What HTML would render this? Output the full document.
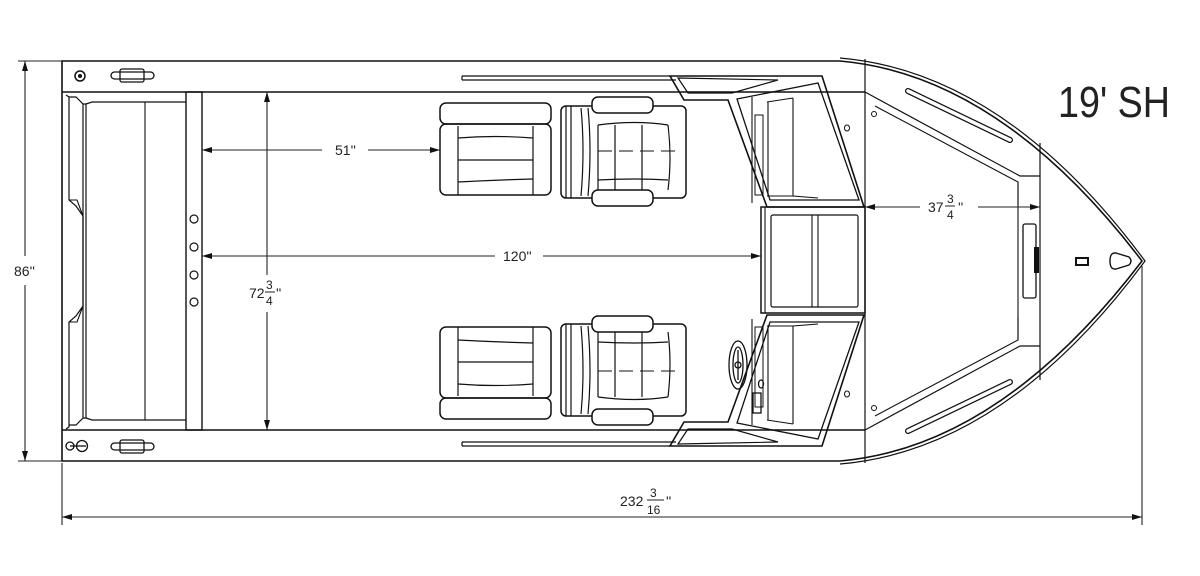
<!DOCTYPE html>
<html><head><meta charset="utf-8"><style>
html,body{margin:0;padding:0;background:#fff;width:1200px;height:576px;overflow:hidden}
svg{display:block}
text{font-family:"Liberation Sans",sans-serif;fill:#222}
</style></head><body>
<svg width="1200" height="576" viewBox="0 0 1200 576" xmlns="http://www.w3.org/2000/svg">
<defs>
<marker id="a" viewBox="0 0 10 6" refX="10" refY="3" markerWidth="10" markerHeight="6" orient="auto-start-reverse" markerUnits="userSpaceOnUse"><path d="M0,0L10,3L0,6z" fill="#111"/></marker>
<g id="seatR">
 <rect x="440" y="103" width="111" height="21" rx="6" fill="none" stroke="#111" stroke-width="1.5"/>
 <rect x="440" y="124" width="111" height="71" rx="6" fill="none" stroke="#111" stroke-width="1.5"/>
 <line x1="458" y1="126" x2="458" y2="195" stroke="#111" stroke-width="1.2"/>
 <line x1="533" y1="126" x2="533" y2="195" stroke="#111" stroke-width="1.2"/>
 <path d="M458,138 Q495,135 533,138 M458,160 L533,160 M458,182 Q495,180 533,179" fill="none" stroke="#111" stroke-width="1.2"/>
</g>
<g id="seatF">
 <rect x="561" y="106" width="125" height="92" rx="5" fill="none" stroke="#111" stroke-width="1.5"/>
 <path d="M566,106 V198 M571,106 V198 M581,108 Q585,150 581,196 M588,108 Q592,150 588,196" fill="none" stroke="#111" stroke-width="1.2"/>
 <path d="M598,125 L598,190 M615,125 L615,190 M642,125 L642,190 M668,125 Q672,158 668,190" fill="none" stroke="#111" stroke-width="1.2"/>
 <path d="M598,125 Q635,120 668,125 M598,180 Q635,178 668,180" fill="none" stroke="#111" stroke-width="1.2"/>
 <line x1="598" y1="151" x2="676" y2="151" stroke="#111" stroke-width="1" stroke-dasharray="14,7"/>
 <rect x="592" y="97" width="61" height="16" rx="6" fill="#fff" stroke="#111" stroke-width="1.5"/>
 <rect x="592" y="190" width="61" height="16" rx="6" fill="#fff" stroke="#111" stroke-width="1.5"/>
</g>
<g id="dash">
 <polygon points="670,76 822,76 864,207 767,207 728,100 684,100" fill="none" stroke="#111" stroke-width="1.6"/>
 <polygon points="737,99 818,83 859,200 770,200" fill="none" stroke="#111" stroke-width="1.3"/>
 <polygon points="678,78 778,80 732,93 688,93" fill="none" stroke="#111" stroke-width="1.2"/>
 <path d="M752,97 V203 M767,102 L793,98 M767,196 L793,196 M768,102 V196 M793,98 V196 L818,198" fill="none" stroke="#111" stroke-width="1.1"/>
 <rect x="755" y="115" width="8" height="80" fill="none" stroke="#111" stroke-width="1"/>
 <ellipse cx="847" cy="128" rx="2.5" ry="3" fill="none" stroke="#111"/>
 <line x1="462" y1="76" x2="670" y2="76" stroke="#111" stroke-width="1.2"/>
 <line x1="462" y1="80" x2="676" y2="80" stroke="#111" stroke-width="1.2"/>
 <line x1="462" y1="76" x2="462" y2="80" stroke="#111" stroke-width="1.2"/>
 <path d="M875,106 L1018,182 V205" fill="none" stroke="#111" stroke-width="1.1"/>
 <path d="M865,92 L1020,176 H1040" fill="none" stroke="#111" stroke-width="1.2"/>
 <path d="M908,91 L1010,140" stroke="#111" stroke-width="6" stroke-linecap="round"/>
 <path d="M908,91 L1010,140" stroke="#fff" stroke-width="3.5" stroke-linecap="round"/>
 <circle cx="874" cy="114" r="2.5" fill="none" stroke="#111"/>
</g>
</defs>

<!-- hull -->
<path d="M62,61 H840 Q1000,75 1142,261 Q1000,447 840,461 H62 Z" fill="none" stroke="#111" stroke-width="1.6"/>
<path d="M840,58 Q1005,72 1145,261 Q1005,450 840,464" fill="none" stroke="#111" stroke-width="1.2"/>
<line x1="865" y1="59" x2="865" y2="463" stroke="#111" stroke-width="1.2"/>
<line x1="62" y1="92" x2="865" y2="92" stroke="#111" stroke-width="1.5"/>
<line x1="62" y1="430" x2="865" y2="430" stroke="#111" stroke-width="1.5"/>
<line x1="1040" y1="143" x2="1040" y2="380" stroke="#111" stroke-width="1.2"/>
<line x1="1018" y1="182" x2="1018" y2="340" stroke="#111" stroke-width="1.1"/>

<!-- stern -->
<path d="M66,95 L69,97 V200 L76,206 L83,216 V306 L76,316 L69,322 V427 L66,429" fill="none" stroke="#111" stroke-width="1.2"/>
<path d="M69,97 H76 L83,104 V418 L76,425 H69" fill="none" stroke="#111" stroke-width="1.2"/>
<path d="M83,104 H86 V418 H83" fill="none" stroke="#111" stroke-width="1.2"/>
<path d="M69,200 H77 L83,216 M69,322 H77 L83,306" fill="none" stroke="#111" stroke-width="1.1"/>
<path d="M86,104 L92,102 H186 M86,418 L92,420 H186" fill="none" stroke="#111" stroke-width="1.2"/>
<line x1="145" y1="102" x2="145" y2="420" stroke="#111" stroke-width="1.1"/>
<rect x="186" y="92" width="16" height="338" fill="none" stroke="#111" stroke-width="1.4"/>
<g fill="none" stroke="#111" stroke-width="1.2"><circle cx="194" cy="219" r="4"/><circle cx="194" cy="247" r="4"/><circle cx="194" cy="275" r="4"/><circle cx="194" cy="302" r="4"/></g>
<circle cx="80" cy="76" r="5" fill="none" stroke="#111" stroke-width="1.5"/>
<circle cx="80" cy="76" r="2" fill="#111"/>
<g fill="none" stroke="#111" stroke-width="1.3">
<rect x="111" y="72" width="43" height="7" rx="3.5"/><rect x="120" y="69" width="24" height="13" rx="2"/>
<rect x="111" y="443" width="43" height="7" rx="3.5"/><rect x="120" y="440" width="24" height="13" rx="2"/>
<circle cx="70" cy="446" r="4"/><circle cx="82" cy="446" r="5.5"/><line x1="70" y1="446" x2="86" y2="446"/>
</g>

<!-- seats -->
<use href="#seatR"/><use href="#seatR" transform="matrix(1,0,0,-1,0,522)"/>
<use href="#seatF"/><use href="#seatF" transform="matrix(1,0,0,-1,0,522)"/>
<use href="#dash"/><use href="#dash" transform="matrix(1,0,0,-1,0,522)"/>

<!-- middle console -->
<rect x="761" y="207" width="104" height="106" fill="none" stroke="#111" stroke-width="1.5"/>
<rect x="771" y="215" width="87" height="92" rx="2" fill="none" stroke="#111" stroke-width="1.2"/>
<path d="M812,215 V307 M818,215 V307 M765,207 V313" fill="none" stroke="#111" stroke-width="1.1"/>
<!-- wheel -->
<g fill="none" stroke="#111" stroke-width="1.3">
<ellipse cx="738" cy="365" rx="9" ry="24"/><ellipse cx="738" cy="365" rx="5" ry="18"/>
<circle cx="738" cy="365" r="3"/><line x1="738" y1="350" x2="738" y2="380"/>
<rect x="753" y="393" width="8" height="20"/><ellipse cx="761" cy="384" rx="2.5" ry="4"/>
</g>

<!-- bow details -->
<rect x="1023" y="224" width="13" height="74" rx="2" fill="none" stroke="#111" stroke-width="1.3"/>
<rect x="1034" y="247" width="5" height="26" fill="#111"/>
<rect x="1076" y="258" width="12" height="7" fill="none" stroke="#111" stroke-width="2"/>
<path d="M1110,261 Q1110,252 1116,253 L1129,257 Q1133,261 1129,265 L1116,269 Q1110,270 1110,261Z" fill="none" stroke="#111" stroke-width="1.4"/>
<text x="1058" y="117" font-size="44" style="font-weight:300" textLength="112" lengthAdjust="spacingAndGlyphs">19' SH</text>

<!-- dimensions -->
<g stroke="#222" stroke-width="1.1" fill="none">
<line x1="18" y1="61" x2="62" y2="61"/><line x1="18" y1="461" x2="62" y2="461"/>
<line x1="25" y1="61" x2="25" y2="256" marker-start="url(#a)"/><line x1="25" y1="285" x2="25" y2="461" marker-end="url(#a)"/>
<line x1="267" y1="92" x2="267" y2="275" marker-start="url(#a)"/><line x1="267" y1="312" x2="267" y2="430" marker-end="url(#a)"/>
<line x1="202" y1="150" x2="322" y2="150" marker-start="url(#a)"/><line x1="368" y1="150" x2="440" y2="150" marker-end="url(#a)"/>
<line x1="202" y1="256" x2="495" y2="256" marker-start="url(#a)"/><line x1="543" y1="256" x2="761" y2="256" marker-end="url(#a)"/>
<line x1="865" y1="207" x2="920" y2="207" marker-start="url(#a)"/><line x1="978" y1="207" x2="1040" y2="207" marker-end="url(#a)"/>
<line x1="62" y1="463" x2="62" y2="525"/><line x1="1142" y1="266" x2="1142" y2="525"/>
<line x1="62" y1="517" x2="1142" y2="517" marker-start="url(#a)" marker-end="url(#a)"/>
</g>
<g font-size="14">
<text x="14" y="276">86''</text>
<text x="335" y="155">51''</text>
<text x="503" y="261">120''</text>
<text x="249" y="298">72</text><text x="266" y="289" font-size="12">3</text><line x1="265" y1="292" x2="275" y2="292" stroke="#222"/><text x="266" y="305" font-size="12">4</text><text x="276" y="298">''</text>
<text x="928" y="212">37</text><text x="947" y="203" font-size="12">3</text><line x1="945" y1="206" x2="955" y2="206" stroke="#222"/><text x="947" y="219" font-size="12">4</text><text x="958" y="212">''</text>
<text x="620" y="506">232</text><text x="650" y="497" font-size="12">3</text><line x1="647" y1="500" x2="664" y2="500" stroke="#222"/><text x="647" y="514" font-size="12">16</text><text x="666" y="506">''</text>
</g>
</svg>
</body></html>
